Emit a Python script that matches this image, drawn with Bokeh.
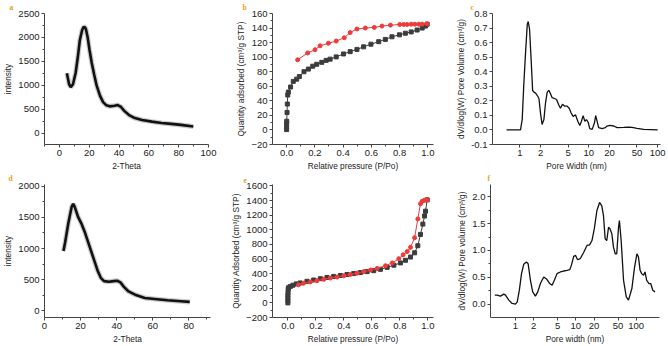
from bokeh.plotting import figure
from bokeh.layouts import column, row
from bokeh.models import FixedTicker, Range1d, NumeralTickFormatter
from bokeh.embed import file_html
from bokeh.resources import INLINE

# ---------------- data ----------------
# (a) XRD pattern 1
xrd1_theta = [5, 6.5, 7.6, 9.1, 10.9, 12.4, 13.7, 15.2, 16.3, 17.2, 17.8, 18.9, 20.2, 21.7, 23.3, 25,
              27.2, 29.3, 31.5, 33.7, 37, 39.1, 41.3, 43.5, 46.7, 50, 55.4, 62, 68.5, 75, 81.5, 89.8]
xrd1_int = [1250, 1020, 960, 1020, 1260, 1600, 1940, 2150, 2220, 2210, 2170, 2010, 1737, 1465, 1226, 990,
            783, 647, 579, 558, 570, 585, 545, 463, 375, 320, 272, 238, 211, 191, 170, 136]

# (d) XRD pattern 2
xrd2_theta = [10.5, 11.4, 13.2, 15, 15.9, 16.8, 18.6, 20.4, 22.2, 24, 25.8, 27.6, 29.4, 31.2, 33,
              35.7, 38.4, 40.3, 42.1, 43.9, 46.6, 50.2, 55.6, 61, 68.2, 75.5, 80.5]
xrd2_int = [961, 1091, 1403, 1662, 1714, 1662, 1506, 1403, 1273, 1117, 961, 805, 649, 530, 478,
            468, 478, 483, 457, 390, 312, 260, 208, 192, 171, 156, 145]

# (b) isotherm 1
iso1_ads_p = [0.0, 0.0, 0.0, 0.001, 0.003, 0.005, 0.008, 0.012, 0.028, 0.047, 0.071, 0.09, 0.123, 0.154,
              0.185, 0.213, 0.249, 0.28, 0.308, 0.351, 0.403, 0.45, 0.498, 0.545, 0.597, 0.652, 0.699,
              0.746, 0.799, 0.841, 0.882, 0.924, 0.96, 0.983, 0.995]
iso1_ads_q = [0.5, 4.4, 8.9, 12, 24, 35.6, 48, 52, 59, 66.7, 69.8, 73.3, 80, 83.6,
              87.6, 90.2, 92.9, 95.6, 97.3, 100.4, 104.4, 107.6, 110.7, 114.2, 117.8, 121.3, 124.4,
              128, 130.7, 132.9, 134.7, 137.3, 140, 142.7, 145.3]
iso1_des_p = [0.995, 0.96, 0.936, 0.908, 0.882, 0.853, 0.829, 0.801, 0.735, 0.675, 0.621, 0.557,
              0.498, 0.45, 0.408, 0.351, 0.296, 0.237, 0.201, 0.149, 0.078]
iso1_des_q = [145.8, 145.3, 145.3, 145.3, 145.3, 144.9, 144.9, 144.9, 144, 142.7, 140.9, 140,
              138.7, 133.8, 126.7, 122.2, 119.1, 115.6, 110.2, 105.8, 96.4]

# (e) isotherm 2
iso2_ads_p = [0.0, 0.0, 0.0, 0.0, 0.001, 0.002, 0.004, 0.017, 0.036, 0.06, 0.088, 0.136, 0.184, 0.232,
              0.279, 0.327, 0.375, 0.422, 0.47, 0.518, 0.566, 0.613, 0.661, 0.709, 0.757, 0.804,
              0.84, 0.876, 0.905, 0.928, 0.947, 0.964, 0.976, 0.983, 0.995]
iso2_ads_q = [0, 35, 70, 105, 140, 185, 207, 225, 242, 260, 273, 295, 313, 331,
              348, 362, 375, 388, 401, 415, 428, 441, 459, 486, 516, 547,
              583, 627, 685, 782, 937, 1078, 1189, 1255, 1410]
iso2_des_p = [0.995, 0.976, 0.959, 0.947, 0.928, 0.905, 0.876, 0.852, 0.823, 0.792, 0.745, 0.697,
              0.637, 0.59, 0.542, 0.494, 0.446, 0.399, 0.351, 0.303, 0.256, 0.208, 0.16, 0.112, 0.076]
iso2_des_q = [1410, 1405, 1392, 1357, 1149, 892, 760, 702, 658, 605, 547, 508,
              472, 450, 428, 406, 388, 371, 353, 340, 322, 304, 287, 269, 247]

# (c) pore size distribution 1
psd1_w = [0.64, 1.02, 1.08, 1.14, 1.21, 1.28, 1.32, 1.38, 1.46, 1.53, 1.6, 1.69, 1.78, 1.89, 1.99,
          2.1, 2.23, 2.35, 2.49, 2.63, 2.78, 2.94, 3.18, 3.4, 3.67, 3.88, 4.15, 4.44, 4.85, 5.19,
          5.55, 5.94, 6.41, 6.93, 7.41, 7.83, 8.28, 8.76, 9.26, 9.79, 10.35, 11.2, 12.1, 12.6,
          13.2, 13.9, 15.6, 17.4, 18.4, 20.2, 23.1, 25.8, 32.3, 38.1, 42.6, 50.1, 62.7, 100]
psd1_v = [0, 0, 0.071, 0.316, 0.538, 0.727, 0.745, 0.693, 0.471, 0.271, 0.26, 0.253, 0.238, 0.216,
          0.116, 0.038, 0.071, 0.182, 0.26, 0.272, 0.249, 0.222, 0.216, 0.209, 0.171, 0.149,
          0.176, 0.164, 0.164, 0.149, 0.116, 0.093, 0.104, 0.06, 0.031, 0.06, 0.098, 0.06,
          0.071, 0.053, 0.009, 0.004, 0.049, 0.098, 0.06, 0.016, 0.009, 0.016, 0.027, 0.031,
          0.027, 0.016, 0.018, 0.02, 0.018, 0.011, 0.004, 0]

# (f) pore size distribution 2
psd2_w = [0.455, 0.497, 0.565, 0.641, 0.684, 0.776, 0.881, 1.0, 1.07, 1.16, 1.26, 1.37, 1.52, 1.62,
          1.77, 1.93, 2.14, 2.34, 2.59, 2.94, 3.34, 3.69, 4.04, 4.41, 4.88, 5.54, 6.28, 7.14, 7.92,
          8.43, 9.22, 9.9, 10.7, 11.8, 13.4, 15.3, 16.9, 18.5, 20.2, 22.3, 24.7, 26.9, 28.7, 30.6,
          32.5, 34.8, 36.9, 39.5, 42, 44.9, 47.6, 50.9, 52.7, 56.3, 61.7, 68.4, 74.5, 84.8, 93.9,
          102.8, 109, 116, 123, 132, 140, 149, 163, 174, 188, 205]
psd2_v = [0.167, 0.167, 0.148, 0.185, 0.167, 0.074, 0.012, 0.0, 0.043, 0.259, 0.568, 0.741, 0.784,
          0.753, 0.444, 0.228, 0.148, 0.228, 0.383, 0.506, 0.457, 0.383, 0.352, 0.444, 0.568, 0.599,
          0.617, 0.63, 0.642, 0.722, 0.889, 0.907, 0.827, 0.846, 0.957, 1.093, 1.105, 1.185, 1.401,
          1.741, 1.895, 1.833, 1.648, 1.216, 1.185, 1.432, 1.401, 1.309, 1.062, 0.938, 0.938, 1.432,
          1.556, 1.185, 0.444, 0.136, 0.074, 0.29, 0.691, 0.938, 0.877, 0.63, 0.568, 0.537, 0.599,
          0.444, 0.383, 0.383, 0.259, 0.228]

# tick definitions
xrd1_xticks = [0, 20, 40, 60, 80, 100]
xrd1_yticks = [0, 500, 1000, 1500, 2000, 2500]
xrd2_xticks = [0, 20, 40, 60, 80]
xrd2_yticks = [0, 500, 1000, 1500, 2000]
p_ticks = [0.0, 0.2, 0.4, 0.6, 0.8, 1.0]
iso1_yticks = [-20, 0, 20, 40, 60, 80, 100, 120, 140, 160]
iso2_yticks = [-200, 0, 200, 400, 600, 800, 1000, 1200, 1400, 1600]
psd1_yticks = [-0.1, 0.0, 0.1, 0.2, 0.3, 0.4, 0.5, 0.6, 0.7, 0.8]
psd2_yticks = [0.0, 0.5, 1.0, 1.5, 2.0]
w_ticks = [1, 2, 5, 10, 20, 50, 100]
panel_letters = ["a", "b", "c", "d", "e", "f"]

FONT = "Liberation Sans"
TXT = "#222222"
AX = "#444444"
GRAY = "#3c3c3c"
RED = "#f03a3a"
GOLD = "#eb9c18"


def mid(ticks):
    return [(a + b) / 2 for a, b in zip(ticks[:-1], ticks[1:])]


def make(width, xr, yr, borders, xlabel, ylabel, letter, letter_dx, standoff, logx=False):
    l, r, t, b = borders
    kw = {}
    if logx:
        kw["x_axis_type"] = "log"
    p = figure(width=width, height=173, x_range=Range1d(*xr), y_range=Range1d(*yr),
               output_backend="svg", toolbar_location=None, title=letter,
               min_border_left=l, min_border_right=r, min_border_top=t, min_border_bottom=b, **kw)
    p.title.align = "left"
    p.title.vertical_align = "top"
    p.title.offset = letter_dx
    p.title.standoff = standoff
    p.title.text_line_height = 0.6
    p.title.text_font = "Liberation Serif"
    p.title.text_font_style = "bold"
    p.title.text_font_size = "7.5px"
    p.title.text_color = GOLD
    p.outline_line_color = None
    p.xgrid.visible = False
    p.ygrid.visible = False
    p.background_fill_color = "white"
    p.border_fill_color = "white"
    for ax in (p.xaxis[0], p.yaxis[0]):
        ax.axis_line_color = AX
        ax.major_tick_line_color = AX
        ax.minor_tick_line_color = AX
        ax.major_tick_in = 0
        ax.major_tick_out = 3
        ax.minor_tick_in = 0
        ax.minor_tick_out = 2
        ax.major_label_text_font = FONT
        ax.major_label_text_font_size = "9.5px"
        ax.major_label_text_color = TXT
        ax.axis_label_text_font = FONT
        ax.axis_label_text_font_size = "8.3px"
        ax.axis_label_text_font_style = "normal"
        ax.axis_label_text_color = TXT
        ax.major_label_standoff = 2
        ax.axis_label_standoff = 2
    p.xaxis.axis_label = xlabel
    p.yaxis.axis_label = ylabel
    return p


# (a)
pa = make(222, (-10, 100), (-240, 2500), (40, 14, 13, 26), "2-Theta", "intensity",
          panel_letters[0], -35, 0)
pa.xaxis.ticker = FixedTicker(ticks=xrd1_xticks, minor_ticks=[-10] + mid(xrd1_xticks))
pa.yaxis.ticker = FixedTicker(ticks=xrd1_yticks, minor_ticks=mid(xrd1_yticks))
pa.line(xrd1_theta, xrd1_int, line_color="#9a9a9a", line_width=5, line_alpha=0.5)
pa.line(xrd1_theta, xrd1_int, line_color="#111111", line_width=2.6)

# (b)
pb = make(228, (-0.1, 1.04), (-20, 160), (50, 17, 12, 26), "Relative pressure (P/Po)",
          "Quantity adsorbed (cm³/g STP)", panel_letters[1], -30, 0)
pb.xaxis.ticker = FixedTicker(ticks=p_ticks, minor_ticks=mid(p_ticks))
pb.yaxis.ticker = FixedTicker(ticks=iso1_yticks, minor_ticks=mid(iso1_yticks))
pb.xaxis.formatter = NumeralTickFormatter(format="0.0")
pb.line(iso1_ads_p, iso1_ads_q, line_color=GRAY, line_width=1)
pb.scatter(iso1_ads_p, iso1_ads_q, marker="square", size=4, color=GRAY)
pb.line(iso1_des_p, iso1_des_q, line_color=RED, line_width=1)
pb.scatter(iso1_des_p, iso1_des_q, marker="circle", size=4, color=RED)

# (c)
pc = make(218, (0.4, 110), (-0.1, 0.8), (42, 8, 11, 27), "Pore Width (nm)",
          "dV/dlog(W) Pore Volume (cm³/g)", panel_letters[2], -22, 0, logx=True)
pc.xaxis.ticker = FixedTicker(ticks=w_ticks, minor_ticks=[])
pc.xaxis.formatter = NumeralTickFormatter(format="0")
pc.yaxis.ticker = FixedTicker(ticks=psd1_yticks, minor_ticks=[])
pc.yaxis.formatter = NumeralTickFormatter(format="0.0")
pc.line(psd1_w, psd1_v, line_color="#111111", line_width=1.3)

# (d)
pd_ = make(222, (0, 92), (-105, 2025), (41, 12, 10, 26), "2-Theta", "intensity",
           panel_letters[3], -36, 0)
pd_.xaxis.ticker = FixedTicker(ticks=xrd2_xticks, minor_ticks=mid(xrd2_xticks) + [90])
pd_.yaxis.ticker = FixedTicker(ticks=xrd2_yticks, minor_ticks=mid(xrd2_yticks))
pd_.line(xrd2_theta, xrd2_int, line_color="#9a9a9a", line_width=5, line_alpha=0.5)
pd_.line(xrd2_theta, xrd2_int, line_color="#111111", line_width=2.6)

# (e)
pe = make(228, (-0.11, 1.04), (-200, 1620), (50, 17, 7, 29), "Relative pressure (P/Po)",
          "Quantity Adsorbed (cm³/g STP)", panel_letters[4], -29, 0)
pe.xaxis.ticker = FixedTicker(ticks=p_ticks, minor_ticks=mid(p_ticks))
pe.yaxis.ticker = FixedTicker(ticks=iso2_yticks, minor_ticks=mid(iso2_yticks))
pe.xaxis.formatter = NumeralTickFormatter(format="0.0")
pe.line(iso2_ads_p, iso2_ads_q, line_color=GRAY, line_width=1)
pe.scatter(iso2_ads_p, iso2_ads_q, marker="square", size=4, color=GRAY)
pe.line(iso2_des_p, iso2_des_q, line_color=RED, line_width=1)
pe.scatter(iso2_des_p, iso2_des_q, marker="circle", size=4, color=RED)

# (f)
pf = make(218, (0.386, 243), (-0.25, 2.23), (40, 9, 10, 29), "Pore width (nm)",
          "dV/dlog(W) Pore volume (cm³/g)", panel_letters[5], -3, 0, logx=True)
pf.xaxis.ticker = FixedTicker(ticks=w_ticks, minor_ticks=[])
pf.xaxis.formatter = NumeralTickFormatter(format="0")
pf.yaxis.ticker = FixedTicker(ticks=psd2_yticks, minor_ticks=mid(psd2_yticks))
pf.yaxis.formatter = NumeralTickFormatter(format="0.0")
pf.line(psd2_w, psd2_v, line_color="#111111", line_width=1.3)

layout = column(row(pa, pb, pc, spacing=0), row(pd_, pe, pf, spacing=0), spacing=0)
open("out.html", "w").write(file_html(layout, INLINE))
